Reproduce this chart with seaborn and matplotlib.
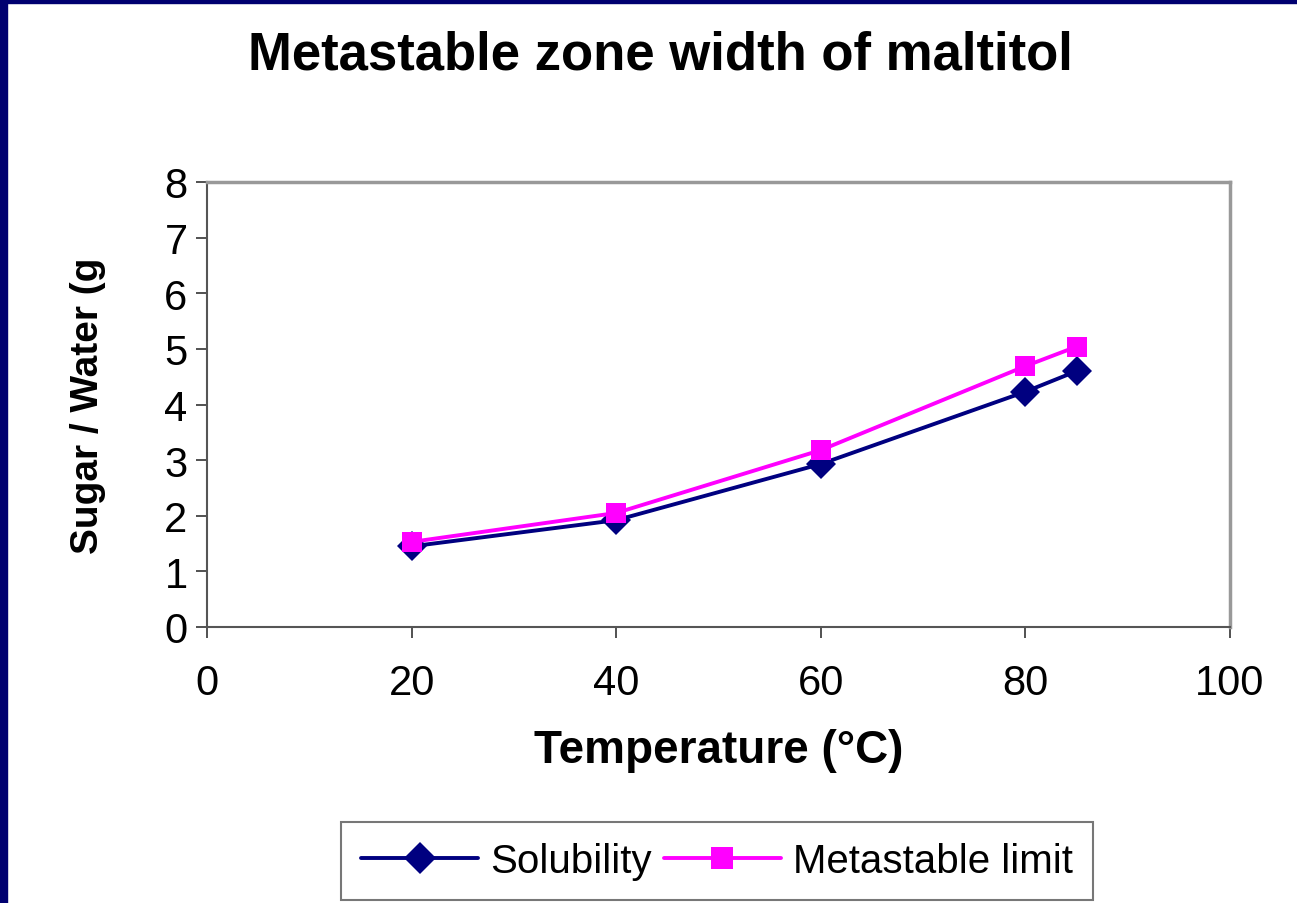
import matplotlib
matplotlib.use("Agg")
import matplotlib.pyplot as plt
import seaborn as sns
import pandas as pd
from matplotlib.patches import Rectangle
from matplotlib.lines import Line2D

temperature = [20, 40, 60, 80, 85]
solubility = [1.45, 1.92, 2.93, 4.23, 4.60]
metastable = [1.53, 2.05, 3.18, 4.69, 5.04]
series_names = ["Solubility", "Metastable limit"]
x_ticks = [0, 20, 40, 60, 80, 100]
y_ticks = [0, 1, 2, 3, 4, 5, 6, 7, 8]

df = pd.DataFrame({
    "Temperature": temperature * 2,
    "Value": solubility + metastable,
    "Series": [series_names[0]] * len(temperature) + [series_names[1]] * len(temperature),
})

sns.set_theme(style="white")
plt.rcParams["font.family"] = ["Liberation Sans", "DejaVu Sans"]
plt.rcParams["text.color"] = "black"
plt.rcParams["axes.labelcolor"] = "black"

fig = plt.figure(figsize=(12.97, 9.04), dpi=100)
fig.patch.set_facecolor("white")
ax = fig.add_axes([207/1297, 1-628/904, (1230-207)/1297, (628-183)/904])

palette = {series_names[0]: "#000080", series_names[1]: "#FF00FF"}
markers = {series_names[0]: "D", series_names[1]: "s"}
sns.lineplot(data=df, x="Temperature", y="Value", hue="Series", style="Series",
             palette=palette, markers=markers, dashes=False, markersize=15,
             markeredgewidth=0, linewidth=2.8, ax=ax, legend=False)

ax.set_xlim(0, 100)
ax.set_ylim(0, 8)
ax.set_xticks(x_ticks)
ax.set_yticks(y_ticks)
ax.tick_params(axis="both", which="both", direction="out", length=8, width=1.2,
               color="#333333", labelsize=30, labelcolor="black", pad=6,
               bottom=True, left=True)
ax.tick_params(axis="x", pad=18)
for side in ["top", "right"]:
    ax.spines[side].set_color("#999999")
    ax.spines[side].set_linewidth(2.5)
for side in ["left", "bottom"]:
    ax.spines[side].set_color("#555555")
    ax.spines[side].set_linewidth(1.5)

ax.set_xlabel("Temperature (°C)", fontsize=33, fontweight="bold", labelpad=18)
ax.set_ylabel("Sugar / Water (g", fontsize=28, fontweight="bold", labelpad=42)

fig.text(660/1297, 1-56/904, "Metastable zone width of maltitol", ha="center", va="center",
         fontsize=38, fontweight="bold")

handles = [Line2D([], [], color=palette[n], marker=markers[n], markersize=16,
                  markeredgewidth=0, linewidth=2.8) for n in series_names]
leg = fig.legend(handles, series_names, loc="center", bbox_to_anchor=(717/1297, 1-862/904),
                 ncol=2, fontsize=29, frameon=True, fancybox=False, handlelength=2.9,
                 columnspacing=0.3, handletextpad=0.3, borderpad=0.5, borderaxespad=0)
leg.get_frame().set_edgecolor("#555555")
leg.get_frame().set_linewidth(1.5)

fig.patches.append(Rectangle((0, 0), 7/1297, 1, transform=fig.transFigure, color="#000070", zorder=10))
fig.patches.append(Rectangle((0, 1-4/904), 1, 4/904, transform=fig.transFigure, color="#000070", zorder=10))

fig.savefig("out.png", dpi=100)
